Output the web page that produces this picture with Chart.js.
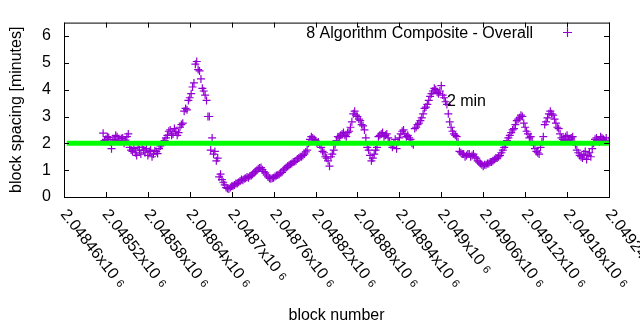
<!DOCTYPE html>
<html>
<head>
<meta charset="utf-8">
<script src="https://cdn.jsdelivr.net/npm/chart.js@4"></script>
<style>
  html, body { margin: 0; padding: 0; background: #fff; }
</style>
</head>
<body>
<canvas id="chart" width="640" height="330"></canvas>
<script>
// block numbers are consecutive; values read every 4 blocks, plus the blocks in between
const firstBlock = 2048516;
const blockStep = 4;
const midOffset = 2;

// block spacing in minutes
const spacing = [
  2.38, 2.15, 2.22, 1.8, 2.12, 2.25, 2.08, 2.2, 2.12, 2.35,
  1.75, 1.8, 1.55, 1.75, 1.85, 1.65, 1.55, 1.75, 1.6, 1.7,
  1.8, 1.95, 2.1, 2.3, 2.5, 2.35, 2.45, 2.4, 2.7, 3.2,
  3.25, 3.7, 4.1, 4.95, 4.75, 4.4, 3.95, 3.6, 3.0, 2.2,
  1.7, 1.45, 0.85, 0.55, 0.35, 0.3, 0.4, 0.45, 0.5, 0.6,
  0.62, 0.7, 0.72, 0.8, 0.9, 1.0, 1.08, 1.02, 0.9, 0.75,
  0.68, 0.72, 0.8, 0.85, 0.92, 1.05, 1.15, 1.22, 1.3, 1.35,
  1.45, 1.5, 1.6, 1.75, 2.15, 2.2, 2.1, 2.05, 1.85, 1.65,
  1.45, 1.15, 1.6, 1.95, 2.25, 2.3, 2.4, 2.25, 2.45, 2.8,
  3.2, 3.0, 2.85, 2.65, 2.2, 1.75, 1.35, 1.6, 1.85, 2.3,
  2.4, 2.3, 2.2, 1.95, 2.0, 1.8, 2.2, 2.45, 2.35, 2.3,
  2.15, 1.95, 2.6, 2.75, 2.95, 3.3, 3.45, 3.75, 3.95, 4.0,
  3.85, 4.15, 3.7, 3.45, 2.8, 2.45, 2.3, 2.05, 1.65, 1.6,
  1.55, 1.6, 1.55, 1.5, 1.35, 1.25, 1.15, 1.2, 1.25, 1.3,
  1.4, 1.45, 1.55, 1.75, 1.95, 2.2, 2.4, 2.55, 2.85, 2.95,
  3.0, 2.6, 2.35, 2.25, 1.95, 1.7, 1.6, 2.05, 2.7, 2.95,
  3.2, 3.05, 2.75, 2.55, 2.2, 2.1, 2.3, 2.15, 2.25, 1.95,
  1.65, 1.5, 1.6, 1.4, 1.65, 1.8, 2.15, 2.1, 2.25, 2.15,
  2.2, 2.1
];

// the blocks in between (firstBlock + 2 + 4i)
const spacingMid = [
  2.1, 2.25, 2.05, 2.15, 2.3, 2.1, 2.18, 2.0, 2.25, 1.85,
  1.7, 1.65, 1.85, 1.6, 1.75, 1.8, 1.7, 1.5, 1.72, 1.62,
  1.9, 2.05, 2.2, 2.45, 2.3, 2.55, 2.3, 2.6, 2.75, 3.3,
  3.6, 3.85, 4.25, 5.05, 4.7, 4.05, 3.8, 3.0, 1.75, 1.6,
  1.35, 0.75, 0.65, 0.45, 0.32, 0.35, 0.42, 0.5, 0.55, 0.65,
  0.68, 0.75, 0.78, 0.85, 0.95, 1.05, 1.1, 0.95, 0.82, 0.7,
  0.7, 0.76, 0.82, 0.9, 1.0, 1.1, 1.18, 1.25, 1.32, 1.42,
  1.5, 1.55, 1.68, 2.0, 2.25, 2.15, 2.0, 1.95, 1.7, 1.5,
  1.35, 1.5, 1.75, 2.1, 2.2, 2.35, 2.3, 2.4, 2.6, 3.1,
  3.05, 2.9, 2.7, 2.5, 1.85, 1.55, 1.45, 1.75, 2.25, 2.35,
  2.25, 2.35, 2.05, 1.85, 2.15, 2.05, 2.35, 2.5, 2.25, 2.2,
  2.0, 2.55, 2.7, 2.85, 3.1, 3.35, 3.6, 3.85, 4.05, 3.9,
  3.95, 3.8, 3.55, 3.1, 2.6, 2.35, 2.25, 1.7, 1.6, 1.5,
  1.6, 1.5, 1.6, 1.45, 1.3, 1.2, 1.2, 1.25, 1.3, 1.35,
  1.45, 1.5, 1.65, 1.85, 2.1, 2.3, 2.5, 2.7, 2.9, 3.05,
  2.75, 2.45, 2.2, 2.05, 1.8, 1.65, 1.85, 2.25, 2.8, 3.1,
  3.1, 2.9, 2.6, 2.35, 2.15, 2.25, 2.1, 2.2, 2.05, 1.75,
  1.55, 1.45, 1.7, 1.55, 1.5, 2.0, 2.2, 2.05, 2.2, 2.1
];

// 2 minute target line
const targetSpacing = 2;
const targetBlocks = [2048464, 2049240];

const xRange = [2048460, 2049240];
const yRange = [0, 6.5];
const xTickValues = [2048460, 2048520, 2048580, 2048640, 2048700, 2048760, 2048820,
  2048880, 2048940, 2049000, 2049060, 2049120, 2049180, 2049240];
const xTickLabels = ['2.04846x10', '2.04852x10', '2.04858x10', '2.04864x10', '2.0487x10',
  '2.04876x10', '2.04882x10', '2.04888x10', '2.04894x10', '2.049x10', '2.04906x10',
  '2.04912x10', '2.04918x10', '2.04924x10'];
const xTickExponent = '6';

const seriesLabel = '8 Algorithm Composite - Overall';
const targetLabel = '2 min';
const purple = '#9400d3';
const green = '#00ff00';
const fontFamily = '"Liberation Sans", Arial, sans-serif';

Chart.defaults.font.family = fontFamily;
Chart.defaults.font.size = 16;
Chart.defaults.color = '#000';

const points = spacing.map((v, i) => ({ x: firstBlock + i * blockStep, y: v }))
  .concat(spacingMid.map((v, i) => ({ x: firstBlock + midOffset + i * blockStep, y: v })));

// frame, inward ticks, legend, label and rotated x tick labels (gnuplot look)
const gnuplotFrame = {
  id: 'gnuplotFrame',
  afterDatasetsDraw(chart) {
    const { ctx, chartArea: a, scales: { x, y } } = chart;
    ctx.save();
    ctx.strokeStyle = '#000';
    ctx.lineWidth = 1;
    ctx.strokeRect(a.left + 0.5, a.top + 0.5, a.right - a.left, a.bottom - a.top);
    ctx.beginPath();
    xTickValues.forEach(v => {
      const px = Math.round(x.getPixelForValue(v)) + 0.5;
      ctx.moveTo(px, a.bottom); ctx.lineTo(px, a.bottom - 5);
      ctx.moveTo(px, a.top); ctx.lineTo(px, a.top + 5);
    });
    y.ticks.forEach(t => {
      const py = Math.round(y.getPixelForValue(t.value)) + 0.5;
      ctx.moveTo(a.left, py); ctx.lineTo(a.left + 5, py);
      ctx.moveTo(a.right, py); ctx.lineTo(a.right - 5, py);
    });
    ctx.stroke();

    // legend
    ctx.fillStyle = '#000';
    ctx.font = '16px ' + fontFamily;
    ctx.textAlign = 'right';
    ctx.textBaseline = 'alphabetic';
    ctx.fillText(seriesLabel, 533, 37.5);
    ctx.strokeStyle = purple;
    ctx.lineWidth = 1.2;
    ctx.beginPath();
    ctx.moveTo(563, 32.5); ctx.lineTo(572, 32.5);
    ctx.moveTo(567.5, 28); ctx.lineTo(567.5, 37);
    ctx.stroke();

    // "2 min" label
    ctx.textAlign = 'left';
    ctx.textBaseline = 'middle';
    ctx.fillText(targetLabel, x.getPixelForValue(2049008), y.getPixelForValue(3.55));

    // x tick labels, rotated down to the right
    xTickValues.forEach((v, i) => {
      const px = x.getPixelForValue(v);
      ctx.save();
      ctx.translate(px - 0.6, a.bottom + 14.5);
      ctx.rotate(52 * Math.PI / 180);
      ctx.font = '16px ' + fontFamily;
      ctx.textBaseline = 'middle';
      ctx.fillText(xTickLabels[i], 0, 0);
      const w = ctx.measureText(xTickLabels[i]).width;
      ctx.font = '11px ' + fontFamily;
      ctx.fillText(xTickExponent, w + 5, 0);
      ctx.restore();
    });
    ctx.restore();
  }
};

new Chart(document.getElementById('chart'), {
  type: 'scatter',
  data: {
    datasets: [
      {
        label: targetLabel,
        type: 'line',
        data: targetBlocks.map(b => ({ x: b, y: targetSpacing })),
        borderColor: green,
        borderWidth: 5,
        borderCapStyle: 'butt',
        pointRadius: 0,
        order: 0,
      },
      {
        label: seriesLabel,
        data: points,
        pointStyle: 'cross',
        pointRadius: 4,
        borderColor: purple,
        backgroundColor: purple,
        borderWidth: 1.2,
        order: 1,
      },
    ],
  },
  options: {
    responsive: false,
    animation: false,
    events: [],
    layout: { padding: { top: 19, right: 31, left: 0, bottom: 0 } },
    plugins: { legend: { display: false }, tooltip: { enabled: false } },
    scales: {
      x: {
        type: 'linear',
        min: xRange[0],
        max: xRange[1],
        grid: { display: false, drawTicks: false },
        border: { display: false },
        ticks: { display: false },
        title: { display: true, text: 'block number', padding: { top: 0, bottom: 5 } },
        afterFit(s) { s.height = 133; },
      },
      y: {
        min: yRange[0],
        max: yRange[1],
        grid: { display: false, drawTicks: false },
        border: { display: false },
        ticks: { stepSize: 1, includeBounds: false, padding: 13 },
        title: { display: true, text: 'block spacing [minutes]', padding: { top: 7, bottom: 0 } },
        afterFit(s) { s.width = 64; },
      },
    },
  },
  plugins: [gnuplotFrame],
});
</script>
</body>
</html>
